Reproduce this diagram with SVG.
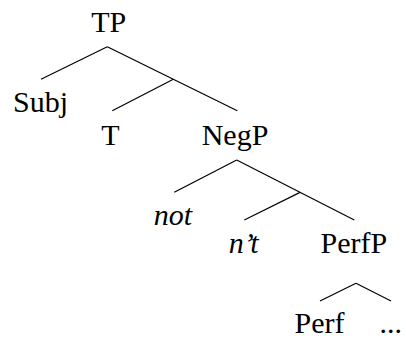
<svg xmlns="http://www.w3.org/2000/svg" width="406" height="343" viewBox="0 0 406 343">
<style>
.e line{stroke:#000;stroke-width:1.2;fill:none}
</style>
<rect width="406" height="343" fill="#fff"/>
<g class="e" id="edges">
<line x1="107.3" y1="46.7" x2="41" y2="79.3"/>
<line x1="107.3" y1="46.7" x2="237.3" y2="110.7"/>
<line x1="173.3" y1="79.2" x2="112.3" y2="110.7"/>
<line x1="236.7" y1="160" x2="174.3" y2="192.3"/>
<line x1="236.7" y1="160" x2="354.3" y2="220"/>
<line x1="300" y1="192.4" x2="244.3" y2="220"/>
<line x1="356" y1="283.3" x2="320" y2="301"/>
<line x1="356" y1="283.3" x2="391" y2="301"/>
</g>
<g font-family="Liberation Serif, Times New Roman, serif" font-size="30" fill="#000" text-anchor="middle">
<g id="TP"><text x="108.7" y="32.3">TP</text></g>
<g id="Subj"><text x="40.5" y="112">Subj</text></g>
<g id="T"><text x="110.3" y="145">T</text></g>
<g id="NegP"><text x="235" y="145">NegP</text></g>
<g id="not"><text font-style="italic" x="173" y="225.3">not</text></g>
<g id="nt"><text font-style="italic" x="243.7" y="252.7">n’t</text></g>
<g id="PerfP"><text x="353.8" y="252.7">PerfP</text></g>
<g id="Perf"><text x="319.5" y="333.3">Perf</text></g>
<g id="dots"><text x="390.8" y="333.3">...</text></g>
</g>
</svg>
